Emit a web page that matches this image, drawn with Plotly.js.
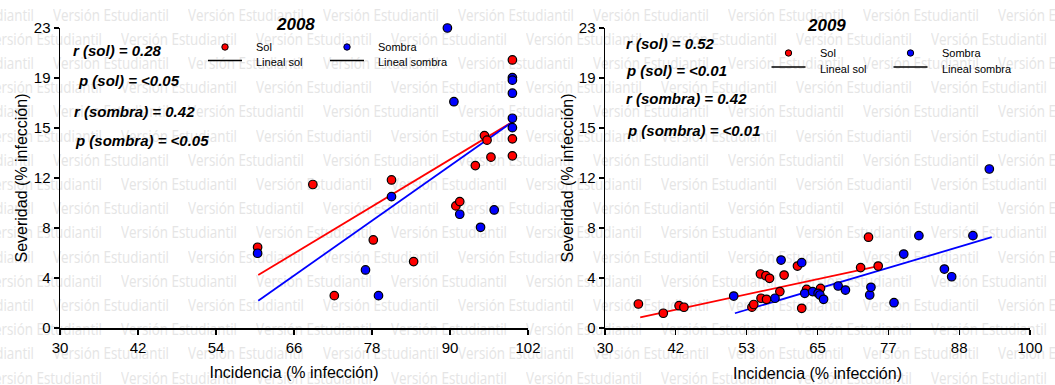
<!DOCTYPE html>
<html><head><meta charset="utf-8">
<script src="https://cdn.plot.ly/plotly-3.0.1.min.js"></script>
<style>
html,body{margin:0;padding:0;background:#fff;}
#wrap{position:relative;width:1055px;height:385px;overflow:hidden;}
#wm{position:absolute;left:0;top:0;width:1055px;height:385px;z-index:0;font-family:"Open Sans","Noto Sans",sans-serif;font-size:16px;color:#e5e5e5;white-space:nowrap;}
#wm span{position:absolute;line-height:1;transform-origin:0 50%;}
#chart{position:absolute;left:0;top:0;width:1055px;height:385px;z-index:1;}
</style></head>
<body><div id="wrap"><div id="wm"></div><div id="chart"></div></div>
<script>
// ---------- DATA ----------
const sol2008X = [60.4, 68.9, 72.2, 78.2, 81.0, 84.4, 90.9, 91.5, 93.9, 95.3, 95.7, 96.3, 99.6, 99.6, 99.6];
const sol2008Y = [6.19, 11.0, 2.48, 6.75, 11.35, 5.09, 9.36, 9.69, 12.45, 14.75, 14.4, 13.1, 20.55, 14.5, 13.2];
const sombra2008X = [60.4, 77.0, 79.0, 81.0, 89.6, 90.6, 91.5, 94.7, 96.8, 99.6, 99.6, 99.6, 99.6, 99.6];
const sombra2008Y = [5.73, 4.45, 2.48, 10.07, 23.0, 17.35, 8.72, 7.72, 9.05, 19.2, 19.0, 18.0, 16.08, 15.36];
const linSol2008X = [60.5, 99.6];
const linSol2008Y = [4.06, 15.8];
const linSombra2008X = [60.5, 99.6];
const linSombra2008Y = [2.09, 15.8];

const sol2009X = [35.5, 39.6, 42.2, 43.0, 54.2, 54.5, 55.6, 56.5, 57.1, 55.7, 56.6, 58.8, 59.5, 61.7, 62.4, 63.2, 65.5, 72.1, 73.4, 75.0];
const sol2009Y = [1.84, 1.13, 1.71, 1.59, 1.6, 1.8, 4.14, 4.01, 3.81, 2.28, 2.2, 2.79, 4.06, 4.75, 1.51, 2.96, 3.04, 4.63, 6.96, 4.75];
const sombra2009X = [51.2, 58.0, 59.0, 62.4, 62.9, 64.2, 65.1, 65.4, 66.0, 68.4, 69.6, 73.6, 73.8, 77.6, 79.2, 81.7, 85.9, 87.1, 90.6, 93.3];
const sombra2009Y = [2.45, 2.28, 5.21, 5.01, 2.66, 2.79, 2.66, 2.53, 2.2, 3.22, 2.91, 2.53, 3.12, 1.94, 5.67, 7.08, 4.52, 3.93, 7.08, 12.19];
const linSol2009X = [35.8, 75.0];
const linSol2009Y = [0.82, 4.75];
const linSombra2009X = [51.4, 93.7];
const linSombra2009Y = [1.13, 6.96];

const yTickVals = [0, 3.8333, 7.6667, 11.5, 15.3333, 19.1667, 23];
const yTickText = ['0', '4', '8', '12', '15', '19', '23'];
const x1TickVals = [30, 42, 54, 66, 78, 90, 102];
const x1TickText = ['30', '42', '54', '66', '78', '90', '102'];
const x2TickVals = [30, 41.667, 53.333, 65, 76.667, 88.333, 100];
const x2TickText = ['30', '42', '53', '65', '77', '88', '100'];

const stats2008 = ['r (sol) = 0.28', 'p (sol) = <0.05', 'r (sombra) = 0.42', 'p (sombra) = <0.05'];
const stats2009 = ['r (sol) = 0.52', 'p (sol) = <0.01', 'r (sombra) = 0.42', 'p (sombra) = <0.01'];
const legendNames = ['Sol', 'Lineal sol', 'Sombra', 'Lineal sombra'];
const watermarkText = 'Versión Estudiantil';

// ---------- watermark (background text) ----------
(function(){
  const wm = document.getElementById('wm');
  const probe = document.createElement('span');
  probe.textContent = watermarkText;
  wm.appendChild(probe);
  const w = probe.getBoundingClientRect().width || 115;
  wm.removeChild(probe);
  const sx = 116 / w;
  let html = '';
  for (let k = 0; k < 17; k++) {
    const yc = 15 + 24.2 * k;
    const x0 = (k % 2 === 0) ? 53 : -14;
    for (let j = -1; j < 9; j++) {
      html += '<span style="left:' + (x0 + 135 * j) + 'px;top:' + (yc - 8.5) + 'px;transform:scaleX(' + sx.toFixed(4) + ')">' + watermarkText + '</span>';
    }
  }
  wm.innerHTML = html;
})();

// ---------- chart ----------
const RED = '#ff0000', BLUE = '#0000ff';
function pts(x, y, color, xa, ya) {
  return {x: x, y: y, xaxis: xa, yaxis: ya, type: 'scatter', mode: 'markers', cliponaxis: false,
    marker: {color: color, size: 8.5, line: {color: '#000', width: 1.2}}, showlegend: false, hoverinfo: 'x+y'};
}
function lin(x, y, color, xa, ya) {
  return {x: x, y: y, xaxis: xa, yaxis: ya, type: 'scatter', mode: 'lines', cliponaxis: false,
    line: {color: color, width: 1.8}, showlegend: false, hoverinfo: 'skip'};
}
const traces = [
  lin(linSol2008X, linSol2008Y, RED, 'x', 'y'),
  lin(linSombra2008X, linSombra2008Y, BLUE, 'x', 'y'),
  pts(sol2008X, sol2008Y, RED, 'x', 'y'),
  pts(sombra2008X, sombra2008Y, BLUE, 'x', 'y'),
  lin(linSol2009X, linSol2009Y, RED, 'x2', 'y2'),
  lin(linSombra2009X, linSombra2009Y, BLUE, 'x2', 'y2'),
  pts(sol2009X, sol2009Y, RED, 'x2', 'y2'),
  pts(sombra2009X, sombra2009Y, BLUE, 'x2', 'y2')
];

const W = 1055, H = 385;
const FONT = '"Liberation Sans", Arial, sans-serif';
const px = v => v / W, py = v => 1 - v / H;

function axisCommon() {
  return {showline: true, linecolor: '#000', linewidth: 1.5, showgrid: false, zeroline: false,
    ticks: 'outside', ticklen: 5, tickwidth: 1.3, tickcolor: '#000',
    tickfont: {family: FONT, size: 15, color: '#000'}, tickmode: 'array', fixedrange: true};
}
const layout = {
  width: W, height: H, margin: {l: 0, r: 0, t: 0, b: 0},
  paper_bgcolor: 'rgba(0,0,0,0)', plot_bgcolor: 'rgba(0,0,0,0)',
  showlegend: false,
  xaxis: Object.assign(axisCommon(), {domain: [px(60), px(528)], range: [30, 102], anchor: 'y',
    tickvals: x1TickVals, ticktext: x1TickText,
    title: {text: 'Incidencia (% infección)', font: {family: FONT, size: 16, color: '#000'}, standoff: 12}}),
  yaxis: Object.assign(axisCommon(), {domain: [1 - 328 / H, 1 - 28 / H], range: [0, 23], anchor: 'x',
    tickvals: yTickVals, ticktext: yTickText,
    title: {text: 'Severidad (% infección)', font: {family: FONT, size: 16, color: '#000'}, standoff: 2}}),
  xaxis2: Object.assign(axisCommon(), {domain: [px(605), px(1030)], range: [30, 100], anchor: 'y2',
    tickvals: x2TickVals, ticktext: x2TickText,
    title: {text: 'Incidencia (% infección)', font: {family: FONT, size: 16, color: '#000'}, standoff: 13}}),
  yaxis2: Object.assign(axisCommon(), {domain: [1 - 328 / H, 1 - 28 / H], range: [0, 23], anchor: 'x2',
    tickvals: yTickVals, ticktext: yTickText,
    title: {text: 'Severidad (% infección)', font: {family: FONT, size: 16, color: '#000'}, standoff: 1}}),
  annotations: [],
  shapes: []
};

const statFont = {family: FONT, size: 15, color: '#000'};
function addStats(list, xs, ys) {
  list.forEach((t, i) => {
    layout.annotations.push({xref: 'paper', yref: 'paper', x: px(xs[i]), y: py(ys[i]), xanchor: 'left', yanchor: 'middle',
      showarrow: false, text: '<b><i>' + t + '</i></b>', font: statFont});
  });
}
addStats(stats2008, [71, 76, 72, 73], [50, 81, 111, 140]);
addStats(stats2009, [624, 624, 624, 625], [43, 71, 99, 130]);

function addTitle(t, xc, yc) {
  layout.annotations.push({xref: 'paper', yref: 'paper', x: px(xc), y: py(yc), xanchor: 'center', yanchor: 'middle',
    showarrow: false, text: '<b><i>' + t + '</i></b>', font: {family: FONT, size: 17, color: '#000'}});
}
addTitle('2008', 295, 24);
addTitle('2009', 826, 25);

function addLegend(x0, yRow1, yRow2) {
  const groups = [{dx: 0, color: RED, names: [legendNames[0], legendNames[1]]},
                  {dx: 122, color: BLUE, names: [legendNames[2], legendNames[3]]}];
  groups.forEach(g => {
    const lx = x0 + g.dx;
    layout.shapes.push({type: 'circle', xref: 'paper', yref: 'paper', xsizemode: 'pixel', ysizemode: 'pixel',
      xanchor: px(lx + 17), yanchor: py(yRow1), x0: -3.2, x1: 3.2, y0: -3.2, y1: 3.2,
      fillcolor: g.color, line: {color: '#000', width: 1}});
    layout.shapes.push({type: 'line', xref: 'paper', yref: 'paper', x0: px(lx), x1: px(lx + 34),
      y0: py(yRow2 - 1.5), y1: py(yRow2 - 1.5), line: {color: '#000', width: 1.5}});
    layout.annotations.push({xref: 'paper', yref: 'paper', x: px(lx + 46), y: py(yRow1), xanchor: 'left', yanchor: 'middle',
      showarrow: false, text: g.names[0], font: {family: FONT, size: 11, color: '#000'}});
    layout.annotations.push({xref: 'paper', yref: 'paper', x: px(lx + 46), y: py(yRow2), xanchor: 'left', yanchor: 'middle',
      showarrow: false, text: g.names[1], font: {family: FONT, size: 11, color: '#000'}});
  });
}
addLegend(208, 47, 62);
addLegend(771.5, 53, 68.5);

Plotly.newPlot('chart', traces, layout, {displayModeBar: false, staticPlot: true});
</script>
</body></html>
